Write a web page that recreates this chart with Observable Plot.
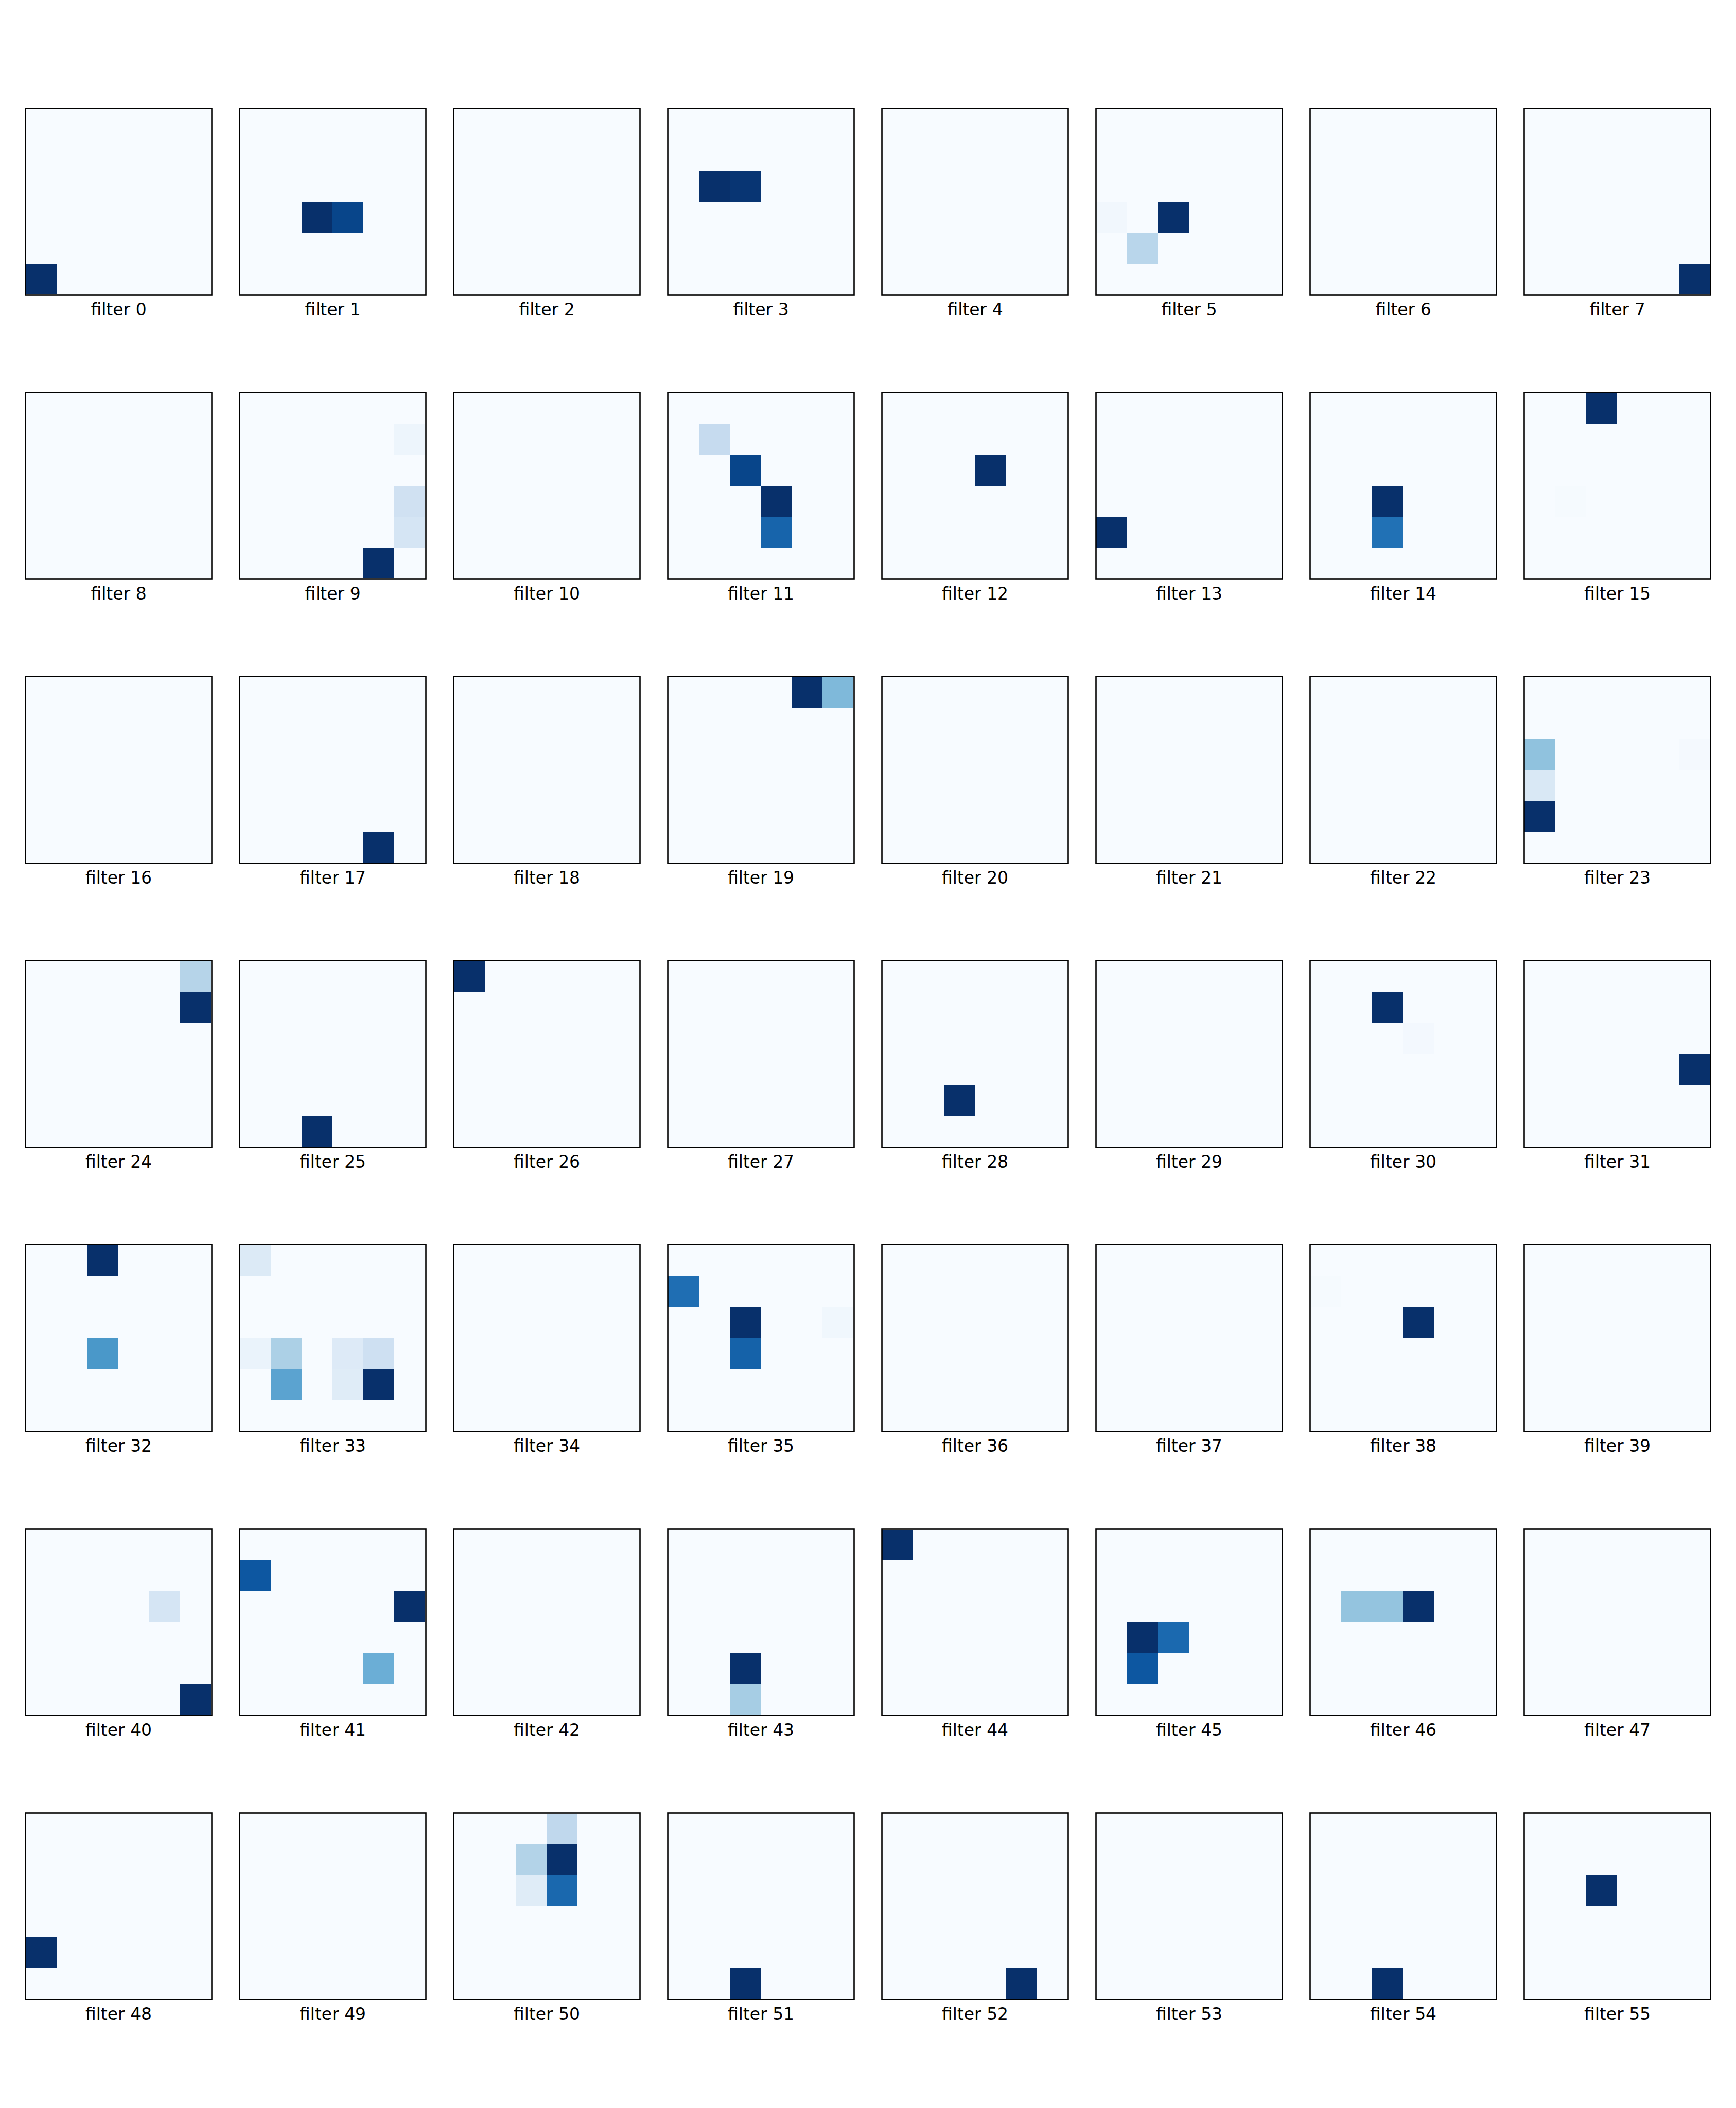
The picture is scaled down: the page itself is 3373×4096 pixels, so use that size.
<!DOCTYPE html>
<html>
<head>
<meta charset="utf-8">
<script src="https://cdn.jsdelivr.net/npm/d3@7"></script>
<script src="https://cdn.jsdelivr.net/npm/@observablehq/plot@0.6"></script>
<style>
  html, body { margin: 0; padding: 0; background: #fff; }
  #chart { width: 3373px; height: 4096px; }
</style>
</head>
<body>
<div id="chart"></div>
<script>
// ---- Data ----
// 56 filters, each a 6x6 activation map (values normalised per filter, 0..1)
const filterIds = d3.range(56);
const gridRows = [0, 1, 2, 3, 4, 5];
const gridCols = [0, 1, 2, 3, 4, 5];
const panelsPerRow = 8;
const panelRows = [0, 1, 2, 3, 4, 5, 6];
const panelCols = [0, 1, 2, 3, 4, 5, 6, 7];

// Non-zero cells: [filter, row, col, value]; every other cell is 0
const activeCells = [
  [0, 5, 0, 1],
  [1, 3, 2, 1], [1, 3, 3, 0.92],
  [3, 2, 1, 1], [3, 2, 2, 0.98],
  [5, 3, 0, 0.03], [5, 3, 2, 1], [5, 4, 1, 0.29],
  [7, 5, 5, 1],
  [9, 1, 5, 0.05], [9, 3, 5, 0.2], [9, 4, 5, 0.17], [9, 5, 4, 1],
  [11, 1, 1, 0.25], [11, 2, 2, 0.92], [11, 3, 3, 1], [11, 4, 3, 0.8],
  [12, 2, 3, 1],
  [13, 4, 0, 1],
  [14, 3, 2, 1], [14, 4, 2, 0.75],
  [15, 0, 2, 1], [15, 3, 1, 0.01],
  [17, 5, 4, 1],
  [19, 0, 4, 1], [19, 0, 5, 0.45],
  [23, 2, 0, 0.41], [23, 3, 0, 0.15], [23, 4, 0, 1], [23, 2, 5, 0.015],
  [24, 0, 5, 0.3], [24, 1, 5, 1],
  [25, 5, 2, 1],
  [26, 0, 0, 1],
  [28, 4, 2, 1],
  [30, 1, 2, 1], [30, 2, 3, 0.02],
  [31, 3, 5, 1],
  [32, 0, 2, 1], [32, 3, 2, 0.6],
  [33, 0, 0, 0.135], [33, 3, 0, 0.065], [33, 3, 1, 0.33], [33, 4, 1, 0.55],
  [33, 3, 3, 0.13], [33, 4, 3, 0.12], [33, 3, 4, 0.21], [33, 4, 4, 1],
  [35, 1, 0, 0.76], [35, 2, 2, 1], [35, 3, 2, 0.81], [35, 2, 5, 0.035],
  [38, 1, 0, 0.01], [38, 2, 3, 1],
  [40, 2, 4, 0.17], [40, 5, 5, 1],
  [41, 1, 0, 0.85], [41, 2, 5, 1], [41, 4, 4, 0.5],
  [43, 4, 2, 1], [43, 5, 2, 0.35],
  [44, 0, 0, 1],
  [45, 3, 1, 1], [45, 3, 2, 0.78], [45, 4, 1, 0.85],
  [46, 2, 1, 0.4], [46, 2, 2, 0.4], [46, 2, 3, 1],
  [48, 4, 0, 1],
  [50, 0, 3, 0.27], [50, 1, 2, 0.31], [50, 1, 3, 1], [50, 2, 2, 0.12], [50, 2, 3, 0.785],
  [51, 5, 2, 1],
  [52, 5, 4, 1],
  [54, 5, 2, 1],
  [55, 2, 2, 1]
];

// matplotlib "Blues" colormap stops
const bluesStops = [0, 0.125, 0.25, 0.375, 0.5, 0.625, 0.75, 0.875, 1];
const bluesColors = ["#f7fbff", "#deebf7", "#c6dbef", "#9ecae1", "#6baed6", "#4292c6", "#2171b5", "#08519c", "#08306b"];

// ---- Build table ----
const lookup = new Map(activeCells.map(([f, r, c, v]) => [`${f}-${r}-${c}`, v]));
const grid = [];
for (const f of filterIds) {
  for (const r of gridRows) {
    for (const c of gridCols) {
      grid.push({
        filter: f,
        pc: f % panelsPerRow,
        pr: Math.floor(f / panelsPerRow),
        row: r,
        col: c,
        value: lookup.get(`${f}-${r}-${c}`) ?? 0
      });
    }
  }
}
const labels = filterIds.map(f => ({
  pc: f % panelsPerRow,
  pr: Math.floor(f / panelsPerRow),
  text: `filter ${f}`
}));

// ---- Chart ----
const S = 0.963;
const chart = Plot.plot({
  width: 3373,
  height: 4096,
  marginLeft: 47.3 * S,
  marginRight: 47.3 * S,
  marginTop: 215.3 * S,
  marginBottom: 4096 - 215.3 * S - (6 * 574 + 377) * S,
  style: { background: "white", fontFamily: "DejaVu Sans", color: "black" },
  fx: { domain: panelCols, axis: null, paddingInner: (433 - 377) / 433, paddingOuter: 0 },
  fy: { domain: panelRows, axis: null, paddingInner: (574 - 377) / 574, paddingOuter: 0 },
  x: { domain: gridCols, axis: null, padding: 0 },
  y: { domain: gridRows, axis: null, padding: 0 },
  color: { type: "linear", domain: bluesStops, range: bluesColors, clamp: true },
  marks: [
    Plot.cell(grid, {
      fx: "pc", fy: "pr", x: "col", y: "row", fill: "value",
      inset: 0, shapeRendering: "crispEdges"
    }),
    Plot.frame({ stroke: "black", strokeWidth: 2.6 }),
    Plot.text(labels, {
      fx: "pc", fy: "pr", text: "text",
      frameAnchor: "bottom", lineAnchor: "bottom", dy: 41.5 * S,
      fontSize: 33, fill: "black"
    })
  ]
});
document.getElementById("chart").appendChild(chart);
</script>
</body>
</html>
